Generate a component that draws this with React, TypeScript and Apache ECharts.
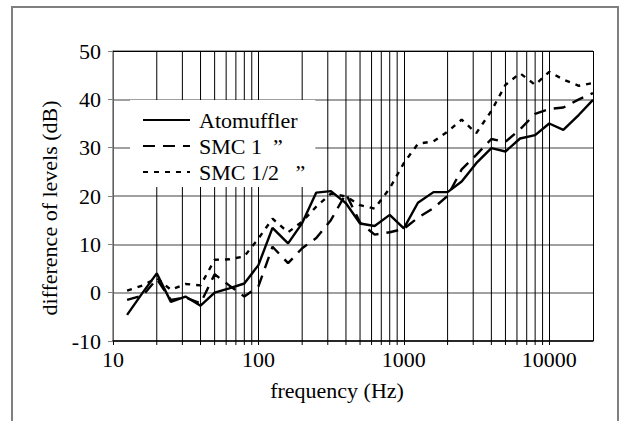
import React, { useEffect, useRef } from "react";
import * as echarts from "echarts";

const freqs = [12.5, 16, 20, 25, 31.5, 40, 50, 63, 80, 100, 125, 160, 200, 250, 315, 400, 500, 630, 800, 1000, 1250, 1600, 2000, 2500, 3150, 4000, 5000, 6300, 8000, 10000, 12500, 16000, 20000];
const atomuffler = [-4.6, 0, 4.0, -1.9, -0.8, -2.7, 0, 0.9, 1.9, 5.7, 13.4, 10.2, 14.4, 20.7, 21.0, 18.5, 14.3, 13.8, 16.1, 13.3, 18.6, 20.8, 20.8, 23.0, 26.8, 29.9, 29.2, 31.9, 32.6, 35.0, 33.7, 36.8, 39.9];
const smc1 = [-1.5, -0.6, 2.8, -1.5, -1.0, -2.2, 3.8, 1.5, -0.8, 1.3, 9.5, 6.1, 9.2, 11.3, 15.0, 20.5, 14.5, 12.0, 12.5, 13.2, 15.5, 17.5, 20.0, 25.5, 28.5, 31.8, 31.2, 33.8, 37.0, 38.0, 38.3, 40.0, 41.3];
const smcHalf = [0.4, 1.5, 3.0, 0.6, 1.8, 1.5, 6.8, 6.9, 7.5, 11.2, 15.3, 12.5, 14.7, 17.8, 20.5, 19.9, 18.1, 17.4, 21.6, 26.8, 30.8, 31.3, 33.3, 35.8, 33.0, 37.6, 43.0, 45.4, 43.0, 45.7, 44.1, 42.8, 43.4];
const seriesNames = ["Atomuffler", "SMC 1 \u00a0\u201d", "SMC 1/2 \u00a0\u00a0\u201d"];
const minorGridFreqs = [20, 30, 40, 50, 60, 70, 80, 90, 200, 300, 400, 500, 600, 700, 800, 900, 2000, 3000, 4000, 5000, 6000, 7000, 8000, 9000];
const yTicks = [-10, 0, 10, 20, 30, 40, 50];

const FONT = "Liberation Serif";

export default function App() {
  const ref = useRef<HTMLDivElement>(null);
  useEffect(() => {
    if (!ref.current) return;
    const chart = echarts.init(ref.current, null, { renderer: "svg" });
    const yMin = yTicks[0];
    const yMax = yTicks[yTicks.length - 1];
    const lineData = (vals: number[]) => freqs.map((f, i) => [f, vals[i]]);
    chart.setOption({
      animation: false,
      backgroundColor: "#fff",
      textStyle: { fontFamily: FONT },
      grid: { left: 113, right: 34, top: 51, bottom: 80, containLabel: false },
      graphic: [
        {
          type: "rect",
          shape: { x: 12, y: 7, width: 606, height: 430 },
          style: { fill: "none", stroke: "#808080", lineWidth: 2 },
          z: 0,
          silent: true,
        },
      ],
      legend: {
        data: seriesNames,
        orient: "vertical",
        left: 130,
        top: 100,
        backgroundColor: "#fff",
        padding: [9, 10, 4, 12],
        itemWidth: 47,
        itemHeight: 14,
        itemGap: 4,
        itemStyle: { opacity: 0 },
        textStyle: { fontFamily: FONT, fontSize: 22, color: "#000", padding: [0, 0, 0, 4] },
        z: 10,
      },
      xAxis: {
        type: "log",
        logBase: 10,
        min: 10,
        max: 20000,
        name: "frequency (Hz)",
        nameLocation: "middle",
        nameGap: 38,
        nameTextStyle: { fontFamily: FONT, fontSize: 22, color: "#000", padding: [0, 32, 0, 0] },
        axisLine: { show: true, onZero: false, lineStyle: { color: "#000", width: 1.5 } },
        axisTick: { show: true, inside: false, length: 4, lineStyle: { color: "#000" } },
        axisLabel: {
          fontFamily: FONT,
          fontSize: 22,
          color: "#000",
          margin: 7,
          showMaxLabel: false,
          formatter: (v: number) => String(Math.round(v)),
        },
        splitLine: { show: true, lineStyle: { color: "#000", width: 1 } },
      },
      yAxis: {
        type: "value",
        min: yMin,
        max: yMax,
        interval: 10,
        name: "difference of levels (dB)",
        nameLocation: "middle",
        nameGap: 47,
        nameTextStyle: { fontFamily: FONT, fontSize: 22, color: "#000", padding: [0, 24, 0, 0] },
        axisLine: { show: true, onZero: false, lineStyle: { color: "#808080", width: 1.5 } },
        axisTick: { show: true, inside: false, length: 5, lineStyle: { color: "#808080" } },
        axisLabel: { fontFamily: FONT, fontSize: 22, color: "#000", margin: 12 },
        splitLine: { show: true, lineStyle: { color: "#808080", width: 1.5 } },
      },
      series: [
        {
          type: "custom",
          name: "minor grid",
          silent: true,
          z: 1,
          clip: false,
          data: minorGridFreqs.map((f) => [f, 0]),
          encode: { x: 0, y: 1 },
          renderItem: (params: any, api: any) => {
            const f = api.value(0);
            const top = api.coord([f, yMax]);
            const bot = api.coord([f, yMin]);
            return {
              type: "group",
              children: [
                {
                  type: "line",
                  shape: { x1: top[0], y1: top[1], x2: bot[0], y2: bot[1] },
                  style: { stroke: "#000", lineWidth: 1 },
                },
                {
                  type: "line",
                  shape: { x1: bot[0], y1: bot[1], x2: bot[0], y2: bot[1] + 4 },
                  style: { stroke: "#000", lineWidth: 1 },
                },
              ],
            };
          },
        },
        {
          type: "line",
          name: seriesNames[0],
          data: lineData(atomuffler),
          symbol: "none",
          z: 3,
          itemStyle: { color: "#000" },
          lineStyle: { color: "#000", width: 2.4, type: "solid" },
          markLine: {
            silent: true,
            symbol: "none",
            label: { show: false },
            lineStyle: { color: "#000", width: 1, type: "solid" },
            data: [{ yAxis: yMax }],
          },
        },
        {
          type: "line",
          name: seriesNames[1],
          data: lineData(smc1),
          symbol: "none",
          z: 3,
          itemStyle: { color: "#000" },
          lineStyle: { color: "#000", width: 2.4, type: [12, 8] },
        },
        {
          type: "line",
          name: seriesNames[2],
          data: lineData(smcHalf),
          symbol: "none",
          z: 3,
          itemStyle: { color: "#000" },
          lineStyle: { color: "#000", width: 2.4, type: [5, 6] },
        },
      ],
    });
    return () => chart.dispose();
  }, []);
  return (
    <div
      ref={ref}
      style={{ position: "fixed", left: 0, top: 0, width: 627, height: 421, background: "#fff" }}
    />
  );
}
